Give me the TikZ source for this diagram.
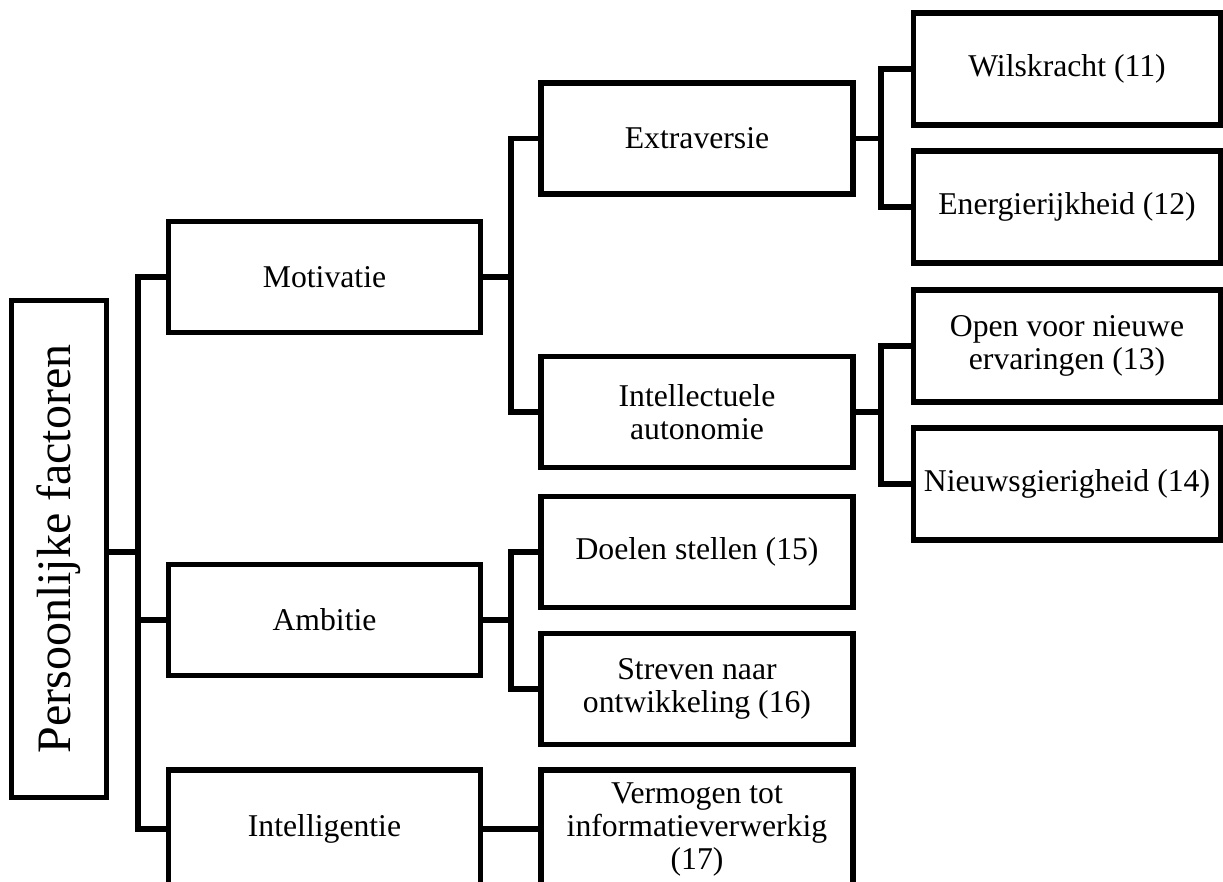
\documentclass[tikz,border=0pt]{standalone}
\usepackage{fontspec}
\setmainfont{Liberation Serif}
\begin{document}
\begin{tikzpicture}[x=1pt,y=-1pt,
  box/.style={draw, line width=5.5pt, align=center, inner sep=0pt,
    font=\fontsize{31.7}{33}\selectfont},
  b2/.style={box, minimum width=312pt, minimum height=111pt},
  b4/.style={box, minimum width=307pt, minimum height=112pt},
  link/.style={line width=5.5pt}]
\useasboundingbox (0,0) rectangle (1223,881);

% root
\node[box, minimum width=95pt, minimum height=497pt] (root) at (59,549)
  {\rotatebox{90}{\fontsize{48}{50}\selectfont Persoonlijke factoren}};

% level 2
\node[b2] (mot) at (324.5,277) {Motivatie};
\node[b2] (amb) at (324.5,620) {Ambitie};
\node[b2, minimum height=118pt] (intel) at (324.5,829) {Intelligentie};

% level 3
\node[b2] (extra) at (697,138.5) {Extraversie};
\node[b2] (intaut) at (697,412) {Intellectuele\\autonomie};
\node[b2] (doel) at (697,552) {Doelen stellen (15)};
\node[b2] (strev) at (697,689) {Streven naar\\ontwikkeling (16)};
\node[b2, minimum height=118pt] (verm) at (697,829) {Vermogen tot\\informatieverwerkig\\(17)};

% level 4
\node[b4] (w11) at (1067,69) {Wilskracht (11)};
\node[b4] (e12) at (1067,207) {Energierijkheid (12)};
\node[b4] (o13) at (1067,346) {Open voor nieuwe\\ervaringen (13)};
\node[b4] (n14) at (1067,484) {Nieuwsgierigheid (14)};

% junctions
\coordinate (j1) at (138,552);
\coordinate (j2) at (511,277);
\coordinate (j3) at (881,138.5);
\coordinate (j4) at (881,412);
\coordinate (j5) at (511,620);

% connectors
\draw[link] (root.east |- j1) -- (j1);
\draw[link] (mot.west) -| (j1) |- (intel.west);
\draw[link] (amb.west) -- (amb.west -| j1);

\draw[link] (mot.east) -- (j2);
\draw[link] (extra.west) -| (j2) |- (intaut.west);

\draw[link] (extra.east) -- (j3);
\draw[link] (w11.west) -| (j3) |- (e12.west);

\draw[link] (intaut.east) -- (j4);
\draw[link] (o13.west) -| (j4) |- (n14.west);

\draw[link] (amb.east) -- (j5);
\draw[link] (doel.west) -| (j5) |- (strev.west);

\draw[link] (intel.east) -- (verm.west);
\end{tikzpicture}
\end{document}
